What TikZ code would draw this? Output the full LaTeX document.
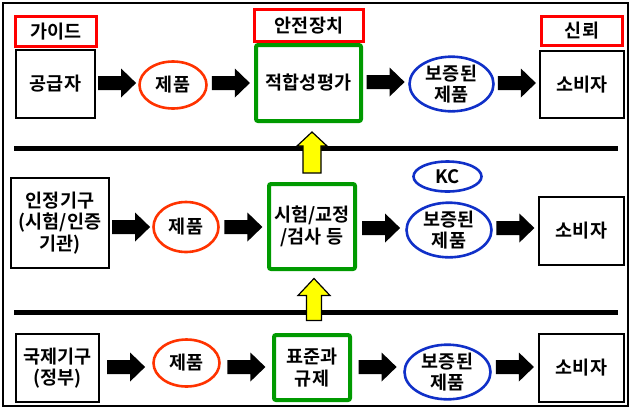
\documentclass[tikz,border=0pt]{standalone}
\usepackage{fontspec}
\setmainfont{Noto Sans CJK KR Bold}
\usetikzlibrary{calc,shapes.geometric}
\definecolor{lblred}{RGB}{255,0,0}
\definecolor{ored}{RGB}{255,51,0}
\definecolor{blu}{RGB}{16,48,200}
\definecolor{grn}{RGB}{0,154,0}
\definecolor{ylw}{RGB}{255,255,0}
\newcommand\blockarr[3]{%
  \path let \p1=($(#1.east)!0.5!(#2.west)$) in coordinate (bam) at (\x1,{-#3pt});
  \fill[black] (bam) ++(-19,-7) -- ++(23,0) -- ++(0,-7.5) -- ++(15,14.5) -- ++(-15,14.5) -- ++(0,-7.5) -- ++(-23,0) -- cycle;}
\begin{document}
\begin{tikzpicture}[x=1pt,y=-1pt,
  font=\fontsize{18.5}{21.5}\selectfont,
  box/.style={draw=black, line width=1.8pt, rectangle, inner sep=0pt, align=center},
  lbl/.style={draw=lblred, line width=3pt, rectangle, inner sep=0pt, align=center},
  gbox/.style={draw=grn, line width=4pt, rectangle, rounded corners=2pt, inner sep=0pt, align=center},
  oval/.style={ellipse, draw=ored, line width=2.6pt, inner sep=0pt, align=center},
  bval/.style={ellipse, draw=blu, line width=2.6pt, inner sep=0pt, align=center},
  yarr/.style={fill=ylw, draw=black, line width=1.2pt, line join=miter},
  sep/.style={line width=5pt, black}]
\useasboundingbox (0,0) rectangle (631,408);
\draw[line width=1.3pt] (3,3) rectangle (628,406);

% separators
\draw[sep] (14,148) -- (618,148);
\draw[sep] (14,312) -- (618,312);

% row 1
\node[box, minimum width=79.2pt, minimum height=68.2pt] (sup) at (55.5,84) {공급자};
\node[lbl, minimum width=81pt, minimum height=30pt] (guide) at (56,31.5) {가이드};
\node[oval, minimum width=67pt, minimum height=47pt] (p1) at (173,85) {제품};
\node[gbox, minimum width=105pt, minimum height=76pt] (conf) at (308.5,83) {적합성평가};
\node[lbl, minimum width=109pt, minimum height=32pt] (safe) at (309,25.5) {안전장치};
\node[bval, minimum width=84pt, minimum height=45pt] (a1) at (451.5,84) {보증된\\제품};
\node[box, minimum width=84.2pt, minimum height=67.2pt] (c1) at (582,84.5) {소비자};
\node[lbl, minimum width=81pt, minimum height=29pt] (trust) at (582,31) {신뢰};

% row 2
\node[box, minimum width=98.2pt, minimum height=90.2pt] (org2) at (60,223) {인정기구\\(시험/인증\\기관)};
\node[oval, minimum width=65pt, minimum height=50pt] (p2) at (186,227) {제품};
\node[gbox, minimum width=86pt, minimum height=85pt] (test) at (312,226.5) {시험/교정\\/검사 등};
\node[bval, minimum width=68pt, minimum height=30pt] (kc) at (447.5,176.5) {KC};
\node[bval, minimum width=85pt, minimum height=53pt] (a2) at (449,230) {보증된\\제품};
\node[box, minimum width=85.2pt, minimum height=68.2pt] (c2) at (581.5,231) {소비자};

% row 3
\node[box, minimum width=83.2pt, minimum height=68.2pt] (org3) at (57.5,368) {국제기구\\(정부)};
\node[oval, minimum width=66pt, minimum height=47pt] (p3) at (186.5,363) {제품};
\node[gbox, minimum width=76pt, minimum height=65pt] (std) at (312,367.5) {표준과\\규제};
\node[bval, minimum width=86pt, minimum height=49pt] (a3) at (447.5,372) {보증된\\제품};
\node[box, minimum width=85.2pt, minimum height=68.2pt] (c3) at (581.5,368) {소비자};

% block arrows
\blockarr{sup}{p1}{83}
\blockarr{p1}{conf}{83}
\blockarr{conf}{a1}{82}
\blockarr{a1}{c1}{83}
\blockarr{org2}{p2}{227}
\blockarr{p2}{test}{227}
\blockarr{test}{a2}{228}
\blockarr{a2}{c2}{228}
\blockarr{org3}{p3}{367}
\blockarr{p3}{std}{367}
\blockarr{std}{a3}{367}
\blockarr{a3}{c3}{367}

% yellow up arrows
\coordinate (y1tip) at ($(conf.south)+(3.5,9)$);
\coordinate (y2tip) at ($(test.south)+(2,7.5)$);
\draw[yarr] (y1tip) -- ++(15,14) -- ++(-6,0) -- ++(0,27) -- ++(-18,0) -- ++(0,-27) -- ++(-6,0) -- cycle;
\draw[yarr] (y2tip) -- ++(16,17) -- ++(-8.5,0) -- ++(0,25) -- ++(-15,0) -- ++(0,-25) -- ++(-8.5,0) -- cycle;
\end{tikzpicture}
\end{document}
